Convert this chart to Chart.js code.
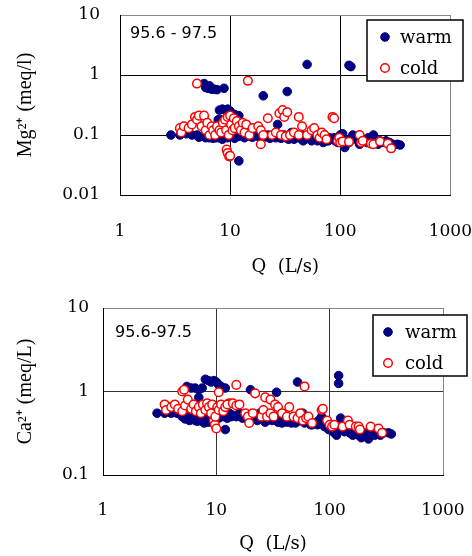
<!DOCTYPE html>
<html>
<head>
<meta charset="utf-8">
<script src="https://cdn.jsdelivr.net/npm/chart.js@4.4.1/dist/chart.umd.min.js"></script>
<style>
  body { margin: 0; background: #fff; }
  canvas { display: block; }
</style>
</head>
<body>
<canvas id="mgChart" width="472" height="280"></canvas>
<canvas id="caChart" width="472" height="276"></canvas>
<script>
// tick values
var qTicks = [1, 10, 100, 1000];
var mgTicks = [0.01, 0.1, 1, 10];
var caTicks = [0.1, 1, 10];

var seriesNames = ['warm', 'cold'];
var periodMg = '95.6 - 97.5';
var periodCa = '95.6-97.5';

// Mg2+ vs Q, [Q (L/s), meq/l]
var mgWarm = [
    [50, 1.5], [120, 1.45], [125, 1.38], [20, 0.45], [33, 0.53], [12, 0.037], [27, 0.15],
    [5.8, 0.72], [6.0, 0.62], [6.3, 0.6], [6.5, 0.66], [6.8, 0.58], [7.2, 0.58], [7.6, 0.57], [8.8, 0.6],
    [8, 0.26], [8.5, 0.27], [9, 0.26], [9.5, 0.27], [10, 0.25], [10.5, 0.22], [11, 0.22], [11.5, 0.21],
    [12, 0.21], [8.2, 0.18], [7.8, 0.18], [9, 0.15], [12, 0.11],
    [2.9, 0.1], [3.5, 0.1], [4, 0.105], [4.5, 0.1], [5, 0.1], [5.5, 0.095], [6, 0.09], [6.5, 0.09],
    [7, 0.088], [7.5, 0.09], [8, 0.092], [8.5, 0.085], [9, 0.095], [10, 0.1], [11, 0.088], [12, 0.095],
    [13, 0.1], [14, 0.095], [15, 0.1], [16, 0.092], [17, 0.1], [18, 0.095], [20, 0.1], [22, 0.1],
    [24, 0.095], [26, 0.09], [28, 0.1], [30, 0.095], [32, 0.09], [34, 0.085], [36, 0.11], [38, 0.085],
    [40, 0.09], [42, 0.095], [45, 0.1], [48, 0.085], [50, 0.09], [55, 0.08], [58, 0.1], [60, 0.09],
    [65, 0.085], [70, 0.075], [75, 0.08], [80, 0.09], [85, 0.085], [90, 0.08], [95, 0.075], [100, 0.1],
    [105, 0.105], [110, 0.062], [115, 0.08], [120, 0.075], [130, 0.1], [140, 0.09], [150, 0.07],
    [160, 0.085], [170, 0.08], [180, 0.09], [190, 0.075], [200, 0.1], [210, 0.08], [220, 0.07],
    [240, 0.075], [260, 0.08], [280, 0.075], [300, 0.07], [330, 0.07], [350, 0.068],
    [5.2, 0.092], [6.2, 0.096], [7.3, 0.094], [8.2, 0.088], [9.5, 0.09], [10.5, 0.095], [11.5, 0.1],
    [13.5, 0.09], [15.5, 0.094], [19, 0.09], [21, 0.093], [23, 0.088], [25, 0.1], [29, 0.088],
    [31, 0.1], [35, 0.095], [37, 0.09], [44, 0.087], [46, 0.08], [52, 0.095], [57, 0.085],
    [62, 0.08], [68, 0.09], [78, 0.08], [88, 0.09], [98, 0.085], [108, 0.08], [125, 0.085],
    [145, 0.08], [175, 0.075], [195, 0.085], [230, 0.08]
];
var mgCold = [
    [5, 0.72], [14.5, 0.8],
    [9.3, 0.057], [9.5, 0.05], [9.8, 0.044], [10, 0.045],
    [19, 0.07], [22, 0.19], [28, 0.23], [30, 0.26], [31, 0.2], [33, 0.24], [42, 0.2], [85, 0.2], [88, 0.19],
    [3.5, 0.13], [3.6, 0.11], [3.8, 0.14], [4.2, 0.13], [4.5, 0.15], [4.8, 0.2], [5, 0.18], [5.2, 0.21],
    [5.5, 0.14], [5.8, 0.21], [6, 0.12], [6.2, 0.16], [6.5, 0.1], [6.8, 0.14], [7, 0.12], [7.3, 0.1],
    [7.6, 0.14], [8, 0.12], [8.3, 0.11], [8.6, 0.16], [9, 0.18], [9.2, 0.12], [9.5, 0.2], [9.7, 0.1],
    [10, 0.21], [10.2, 0.15], [10.5, 0.12], [10.8, 0.19], [11, 0.13], [11.5, 0.17], [12, 0.14],
    [12.5, 0.12], [13, 0.16], [13.5, 0.11], [14, 0.15], [15, 0.1], [16, 0.13], [18, 0.14], [19, 0.12],
    [20, 0.1], [24, 0.1], [26, 0.11], [29, 0.1], [32, 0.095], [35, 0.1], [38, 0.11], [42, 0.1],
    [45, 0.14], [50, 0.1], [55, 0.12], [58, 0.13], [62, 0.1], [65, 0.09], [68, 0.11], [72, 0.1],
    [75, 0.085], [95, 0.08], [98, 0.09], [100, 0.075], [105, 0.078], [120, 0.077], [150, 0.1],
    [155, 0.075], [160, 0.08], [190, 0.072], [200, 0.07], [230, 0.078], [270, 0.072], [290, 0.06]
];

// Ca2+ vs Q, [Q (L/s), meq/L]
var caWarm = [
    [120, 1.55], [120, 1.25], [52, 1.3], [34, 0.98], [20, 1.05], [12, 0.35],
    [5.5, 1.15], [6, 1.1], [6.5, 1.1], [7, 1.05], [7.5, 1.1], [8, 1.4], [8.5, 1.35], [9, 1.3],
    [9.5, 1.35], [10, 1.3], [10.5, 1.2], [11, 1.15], [12, 1.1], [7, 0.85],
    [3, 0.55], [3.5, 0.55], [4, 0.55], [4.5, 0.55], [5, 0.5], [5.3, 0.47], [5.6, 0.52], [6, 0.48],
    [6.5, 0.45], [7, 0.5], [7.5, 0.45], [8, 0.48], [8.5, 0.43], [9, 0.5], [10, 0.52], [11, 0.55],
    [12, 0.53], [13, 0.55], [14, 0.52], [15, 0.5], [16, 0.55], [18, 0.5], [20, 0.52], [22, 0.48],
    [24, 0.55], [26, 0.5], [28, 0.45], [30, 0.48], [33, 0.5], [36, 0.45], [38, 0.42], [40, 0.48],
    [44, 0.45], [48, 0.47], [50, 0.42], [55, 0.45], [58, 0.55], [62, 0.45], [66, 0.42], [70, 0.4],
    [75, 0.42], [80, 0.45], [85, 0.5], [90, 0.38], [95, 0.4], [100, 0.37], [105, 0.35], [110, 0.32],
    [115, 0.3], [120, 0.35], [125, 0.48], [130, 0.38], [140, 0.35], [150, 0.32], [160, 0.3],
    [170, 0.36], [180, 0.3], [190, 0.28], [200, 0.32], [210, 0.3], [220, 0.27], [240, 0.32],
    [260, 0.33], [280, 0.3], [300, 0.32], [330, 0.32], [350, 0.31],
    [5.8, 0.45], [6.8, 0.44], [7.8, 0.42], [8.8, 0.46], [9.5, 0.44], [10.5, 0.48], [11.5, 0.5],
    [12.5, 0.48], [13.5, 0.5], [17, 0.48], [19, 0.46], [21, 0.5], [23, 0.45], [25, 0.47],
    [27, 0.43], [31, 0.45], [35, 0.43], [42, 0.43], [46, 0.42], [52, 0.44], [60, 0.42],
    [68, 0.4], [78, 0.4], [88, 0.42], [98, 0.35], [108, 0.33], [135, 0.33], [155, 0.35],
    [175, 0.31], [195, 0.3], [230, 0.3], [250, 0.3]
];
var caCold = [
    [15, 1.2], [60, 1.15], [5, 1.0], [5.2, 1.05], [10.5, 0.98], [22, 0.95], [27, 0.85], [30, 0.8],
    [33, 0.7], [13, 0.72],
    [3.5, 0.7], [3.6, 0.6], [4, 0.65], [4.3, 0.7], [4.6, 0.62], [5, 0.58], [5.3, 0.68], [5.6, 0.8],
    [6, 0.62], [6.3, 0.7], [6.6, 0.58], [7, 0.65], [7.3, 0.55], [7.6, 0.7], [8, 0.6], [8.3, 0.72],
    [8.6, 0.65], [9, 0.55], [9.2, 0.7], [9.5, 0.45], [9.7, 0.4], [9.8, 0.5], [10, 0.36], [10.2, 0.65],
    [10.5, 0.6], [11, 0.7], [11.5, 0.58], [12, 0.65], [12.5, 0.7], [14, 0.72], [15, 0.68],
    [16, 0.7], [18, 0.55], [19, 0.5], [19.5, 0.42], [21, 0.55], [25, 0.5], [26, 0.6], [28, 0.5],
    [30, 0.55], [32, 0.5], [35, 0.65], [38, 0.55], [42, 0.5], [44, 0.65], [48, 0.5], [52, 0.48],
    [55, 0.55], [58, 0.45], [62, 0.48], [65, 0.5], [70, 0.42], [85, 0.6], [87, 0.62], [95, 0.45],
    [100, 0.4], [105, 0.38], [110, 0.4], [130, 0.38], [145, 0.45], [150, 0.4], [170, 0.38],
    [180, 0.38], [185, 0.35], [230, 0.38], [270, 0.36], [290, 0.32]
];

function toPoints(arr) {
    return arr.map(function (p) { return { x: p[0], y: p[1] }; });
}

// legend box drawn over the plot, like the original
var boxLegend = {
    id: 'boxLegend',
    afterDraw: function (chart, args, opts) {
        var c = chart.ctx;
        c.save();
        c.fillStyle = '#fff';
        c.fillRect(opts.x, opts.y, opts.w, opts.h);
        c.strokeStyle = '#000';
        c.lineWidth = 1.5;
        c.strokeRect(opts.x, opts.y, opts.w, opts.h);
        chart.data.datasets.forEach(function (ds, i) {
            var y = opts.y + opts.rows[i];
            c.beginPath();
            c.arc(opts.x + opts.markX, y, ds.pointRadius, 0, 2 * Math.PI);
            c.fillStyle = ds.backgroundColor;
            c.fill();
            c.lineWidth = ds.borderWidth;
            c.strokeStyle = ds.borderColor;
            c.stroke();
            c.fillStyle = '#000';
            c.font = '18px "DejaVu Serif"';
            c.textBaseline = 'middle';
            c.fillText(ds.label, opts.x + opts.textX, y + 1);
        });
        c.restore();
    }
};

var periodNote = {
    id: 'periodNote',
    afterDraw: function (chart, args, opts) {
        var c = chart.ctx;
        c.save();
        c.fillStyle = '#000';
        c.font = '16px "DejaVu Sans"';
        c.textBaseline = 'middle';
        c.fillText(opts.text, opts.x, opts.y);
        c.restore();
    }
};

function makeChart(id, warm, cold, yTicks, yTitle, lay) {
    var ctx = document.getElementById(id).getContext('2d');
    return new Chart(ctx, {
        type: 'scatter',
        data: {
            datasets: [{
                label: seriesNames[0],
                data: toPoints(warm),
                pointRadius: 4.3,
                pointHoverRadius: 4.3,
                backgroundColor: '#000080',
                borderColor: '#000080',
                borderWidth: 1,
                order: 2
            }, {
                label: seriesNames[1],
                data: toPoints(cold),
                pointRadius: 4.3,
                pointHoverRadius: 4.3,
                backgroundColor: '#ffffff',
                borderColor: '#ff0000',
                borderWidth: 1.5,
                order: 1
            }]
        },
        options: {
            responsive: false,
            animation: false,
            layout: { padding: { top: lay.top, right: lay.right, left: 0, bottom: 0 } },
            plugins: {
                legend: { display: false },
                tooltip: { enabled: false },
                boxLegend: lay.legend,
                periodNote: lay.note
            },
            scales: {
                x: {
                    type: 'logarithmic',
                    min: qTicks[0],
                    max: qTicks[qTicks.length - 1],
                    afterBuildTicks: function (s) {
                        s.ticks = qTicks.map(function (v) { return { value: v }; });
                    },
                    afterFit: function (s) { s.height = lay.xHeight; },
                    ticks: {
                        autoSkip: false,
                        maxRotation: 0,
                        padding: 0,
                        color: '#000',
                        font: { family: 'DejaVu Serif', size: 17 },
                        callback: function (v) { return String(v); }
                    },
                    grid: {
                        drawTicks: true,
                        tickLength: lay.xPad,
                        tickColor: 'rgba(0,0,0,0)',
                        lineWidth: 1,
                        color: function (c) {
                            return c.tick && c.tick.value === qTicks[qTicks.length - 1] ? '#888' : lay.grid;
                        }
                    },
                    border: { color: '#000', width: 1 },
                    title: {
                        display: true,
                        text: 'Q  (L/s)',
                        color: '#000',
                        font: { family: 'DejaVu Serif', size: 18 },
                        padding: { top: 0, bottom: lay.xTitlePad }
                    }
                },
                y: {
                    type: 'logarithmic',
                    min: yTicks[0],
                    max: yTicks[yTicks.length - 1],
                    afterBuildTicks: function (s) {
                        s.ticks = yTicks.map(function (v) { return { value: v }; });
                    },
                    afterFit: function (s) { s.width = lay.yWidth; },
                    ticks: {
                        autoSkip: false,
                        padding: 0,
                        color: '#000',
                        font: { family: 'DejaVu Serif', size: 17 },
                        callback: function (v) { return String(v); }
                    },
                    grid: {
                        drawTicks: true,
                        tickLength: lay.yPad,
                        tickColor: 'rgba(0,0,0,0)',
                        lineWidth: 1,
                        color: function (c) {
                            return c.tick && c.tick.value === yTicks[yTicks.length - 1] ? '#888' : lay.grid;
                        }
                    },
                    border: { color: '#000', width: 1 },
                    title: {
                        display: true,
                        text: yTitle,
                        color: '#000',
                        font: { family: 'Liberation Serif', size: 20 },
                        padding: { top: 14, bottom: 0 }
                    }
                }
            }
        },
        plugins: [boxLegend, periodNote]
    });
}

makeChart('mgChart', mgWarm, mgCold, mgTicks, 'Mg\u00b2\u207a (meq/l)', {
    top: 15, right: 21, xHeight: 85, yWidth: 120, xPad: 26, yPad: 20, xTitlePad: 2, grid: '#000',
    legend: { x: 367, y: 20, w: 96, h: 61, markX: 18, textX: 33, rows: [17, 48] },
    note: { text: periodMg, x: 130, y: 34 }
});

makeChart('caChart', caWarm, caCold, caTicks, 'Ca\u00b2\u207a (meq/L)', {
    top: 28, right: 29, xHeight: 81, yWidth: 103, xPad: 25, yPad: 14, xTitlePad: 1, grid: '#333',
    legend: { x: 373, y: 35, w: 94, h: 61, markX: 15, textX: 32, rows: [17, 48] },
    note: { text: periodCa, x: 115, y: 53 }
});
</script>
</body>
</html>
